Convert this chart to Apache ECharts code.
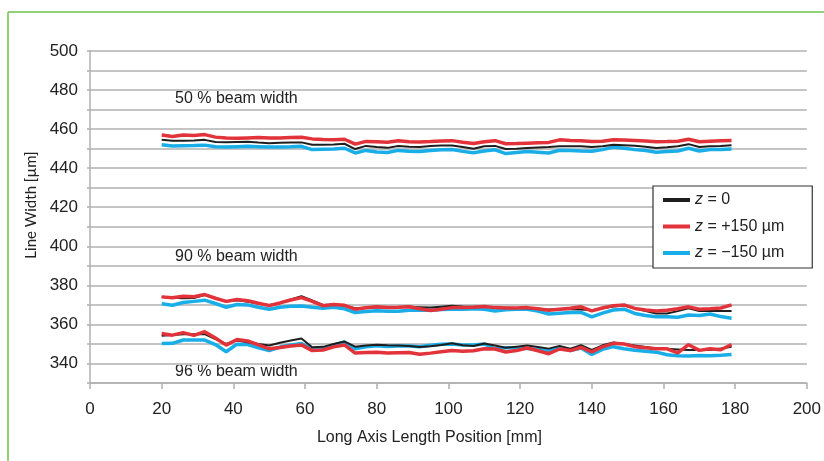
<!DOCTYPE html>
<html>
<head>
<meta charset="utf-8">
<script src="https://cdn.jsdelivr.net/npm/echarts@6/dist/echarts.min.js"></script>
<style>
html,body{margin:0;padding:0;background:#fff;}
#chart{width:824px;height:461px;}
</style>
</head>
<body>
<div id="chart"></div>
<script>
// Positions along the long axis [mm]
const xs = [20,23,26,29,32,35,38,41,44,47,50,53,56,59,62,65,68,71,74,77,80,83,86,89,92,95,98,101,104,107,110,113,116,119,122,125,128,131,134,137,140,143,146,149,152,155,158,161,164,167,170,173,176,179];

// 50 % beam width
const z0_50 = [454.5,454,454.1,454.2,454.5,453.4,453.3,453.4,453.5,453.1,452.8,453,453.1,453.2,452,452,452.1,452.5,449.8,451.4,450.8,450.4,451.4,451,450.9,451.3,451.6,451.6,450.8,449.9,451.2,451.4,449.8,450,450.3,450.6,450.8,451.2,451.2,451.2,450.9,451.2,452,451.8,451.5,451,450.3,450.7,451.2,452.3,450.8,451.2,451.4,451.7];
const zp_50 = [457,456.2,457,456.7,457.2,455.9,455.5,455.3,455.5,455.7,455.5,455.5,455.7,455.8,455,454.7,454.5,454.8,452.3,453.7,453.5,453.3,454,453.5,453.4,453.6,453.9,454.1,453.3,452.6,453.5,454.1,452.5,452.6,452.8,453,453.2,454.5,454.2,454,453.7,453.8,454.5,454.4,454.2,453.9,453.5,453.6,453.8,454.8,453.5,453.8,454,454.2];
const zm_50 = [452,451.3,451.5,451.6,451.8,451,450.8,451,451.2,451,450.8,450.9,451,451.2,449.5,449.7,449.8,450.2,447.8,449.1,448.3,448,449.1,448.7,448.6,449,449.4,449.6,448.6,447.9,448.8,449.4,447.5,448,448.5,448.2,447.8,449.2,449,448.8,448.7,449.5,450.8,450.2,449.5,449,448.2,448.5,448.8,450.2,448.8,449.5,449.6,449.8];

// 90 % beam width
const z0_90 = [374,373.6,373.4,373.5,375.1,373.2,371.7,372.4,371.6,370.7,370,371,372.8,374.5,372.3,370,370.2,369.6,368.3,368.5,368.6,368.7,368.8,369,368.8,368.6,369.1,369.5,369.2,369.1,369,368.6,368.5,368.4,368.3,367.9,367.6,367.7,367.8,367.6,367.3,368.3,369.2,369.7,368.2,366.8,365.6,365.6,366.8,368.3,366.9,366.9,366.9,366.9];
const zp_90 = [374.1,373.6,374.4,374.2,375.3,373.4,371.8,372.8,372.1,370.8,369.6,371,372.5,373.7,371.8,369.6,370.2,369.8,367.8,368.5,369,368.7,368.8,369,368,367.1,367.8,368.6,368.6,368.8,369.2,368.6,368.4,368.4,368.6,368,367.3,367.8,368.3,369,366.9,368.4,369.6,370,368.2,367.4,366.9,367.2,368,369,367.8,368,368.4,370];
const zm_90 = [370.6,369.8,371.2,371.8,372.4,370.7,368.8,370.2,370,368.8,367.8,368.8,369.3,369.4,368.8,368.3,368.8,368,366.1,366.6,367,366.7,366.8,367.2,367.3,367.3,367.6,367.8,367.8,368,367.8,366.9,367.5,367.8,367.8,366.8,365.3,365.7,366.1,366.1,363.9,365.8,367.4,367.8,365.6,364.6,363.9,363.9,363.7,364.8,364.6,365.3,364,363.2];

// 96 % beam width
const z0_96 = [354.2,354.6,355,355,355,352.5,350,351.8,350.9,350,349.2,350.6,351.8,352.8,348.3,348.5,350,351.2,348.6,349.2,349.6,349.3,349.2,349,348.4,348.8,349.5,350.3,349.3,348.9,350.2,349.2,348,348.6,349.2,348.4,347.6,349,347.6,349.4,347,349.3,350.8,350,349.2,348.5,347.7,347.5,347.2,346.9,346.9,346.9,347.7,348.6];
const zp_96 = [355.3,354.5,355.8,354.4,356.3,353,349.4,352.3,351.5,349.5,347.5,348.2,349,349.5,346.6,346.9,348.5,349.5,345.3,345.6,345.8,345.4,345.5,345.6,344.7,345.3,346,346.6,346.2,346.5,347.5,347.4,345.9,346.6,347.9,346.5,345,347.4,346.6,348.2,345.9,348.5,350.3,350,348.6,348,347.5,347.5,345.4,349.6,346.7,347.5,347,349.7];
const zm_96 = [350.2,350.3,352,352,352,349.7,346,349.9,349.7,348,346.6,348.4,349.5,350.2,347.5,347.5,349.5,351,347.5,348.5,349.1,348.7,348.9,349,348.6,349.3,349.8,350,349.5,349.4,350,347.5,348,348.1,347.6,347.1,346.6,348.2,346.6,347.9,344.6,347.2,348.6,347.5,346.8,346.3,345.8,344.5,343.9,343.8,344.1,344,344.2,344.6];

// Axis ticks
const xTicks = [0,20,40,60,80,100,120,140,160,180,200];
const yMin = 330, yMax = 500;

const annotations = ['50 % beam width', '90 % beam width', '96 % beam width'];
const legendNames = ['z0', 'zp', 'zm'];

const FN = "'Liberation Sans', Arial, sans-serif";
const colors = { z0: '#1e1e1e', zp: '#e2323a', zm: '#1aaee8' };
const widths = { z0: 2, zp: 3.5, zm: 3.5 };

function pairs(ys){ return xs.map((x,i)=>[x, ys[i]]); }

const groups = [
  ['zm', [zm_50, zm_90, zm_96]],
  ['z0', [z0_50, z0_90, z0_96]],
  ['zp', [zp_50, zp_90, zp_96]]
];
const series = [];
groups.forEach(([name, arrs]) => {
  arrs.forEach(a => {
    series.push({
      name: name, type: 'line', data: pairs(a), symbol: 'none', showSymbol: false,
      lineStyle: { color: colors[name], width: widths[name] },
      itemStyle: { color: colors[name] },
      silent: true, animation: false
    });
  });
});

const chart = echarts.init(document.getElementById('chart'), null, { renderer: 'canvas' });
chart.setOption({
  animation: false,
  backgroundColor: '#ffffff',
  grid: { left: 90, right: 13, top: 51, bottom: 78, containLabel: false },
  xAxis: {
    type: 'value', min: xTicks[0], max: xTicks[xTicks.length-1], interval: 20,
    name: 'Long Axis Length Position [mm]', nameLocation: 'middle', nameGap: 47,
    nameTextStyle: { fontFamily: FN, fontSize: 16, color: '#222', padding: [0, 38, 0, 0] },
    axisLine: { show: true, lineStyle: { color: '#b0b0b0', width: 1.5 } },
    axisTick: { show: true, length: 6, lineStyle: { color: '#b0b0b0', width: 1.5 } },
    axisLabel: { fontFamily: FN, fontSize: 17, color: '#222', margin: 18 },
    splitLine: { show: false }
  },
  yAxis: {
    type: 'value', min: yMin, max: yMax, interval: 10,
    name: 'Line Width [µm]', nameLocation: 'middle', nameGap: 42,
    nameTextStyle: { fontFamily: 'Lato, sans-serif', fontSize: 15, color: '#222', padding: [0, 0, 0, 24] },
    axisLine: { show: true, lineStyle: { color: '#b0b0b0', width: 1.5 } },
    axisTick: { show: true, length: 3, lineStyle: { color: '#b0b0b0', width: 1.5 } },
    axisLabel: { fontFamily: FN, fontSize: 17, color: '#222', margin: 12,
      formatter: v => (v % 20 === 0 ? String(v) : '') },
    splitLine: { show: true, lineStyle: { color: '#c4c4c4', width: 2 } }
  },
  legend: {
    data: legendNames.map(n => ({ name: n, icon: 'rect' })),
    orient: 'vertical', left: 653, top: 186,
    padding: [5, 28, 6, 10],
    itemGap: 8.5, itemWidth: 27, itemHeight: 4, itemTextGap: 14,
    borderColor: '#333', borderWidth: 1.2, backgroundColor: '#fff',
    formatter: function(n){
      if (n === 'z0') return '{i|z} = 0';
      if (n === 'zp') return '{i|z} = +150 µm';
      return '{i|z} = \u2212150 µm';
    },
    textStyle: {
      fontFamily: FN, fontSize: 16, color: '#222', lineHeight: 18,
      rich: { i: { fontFamily: FN, fontSize: 16, fontStyle: 'italic', color: '#222', lineHeight: 18 } }
    }
  },
  graphic: [
    { type: 'line', shape: { x1: 8, y1: 12, x2: 8, y2: 461 }, style: { stroke: '#6cc24a', lineWidth: 1.5 } },
    { type: 'line', shape: { x1: 8, y1: 12, x2: 824, y2: 12 }, style: { stroke: '#6cc24a', lineWidth: 1.5 } },
    { type: 'text', left: 175, top: 91, style: { text: annotations[0], font: "16px " + FN, fill: '#222' } },
    { type: 'text', left: 175, top: 249, style: { text: annotations[1], font: "16px " + FN, fill: '#222' } },
    { type: 'text', left: 175, top: 364, style: { text: annotations[2], font: "16px " + FN, fill: '#222' } }
  ],
  series: series
});
</script>
</body>
</html>
